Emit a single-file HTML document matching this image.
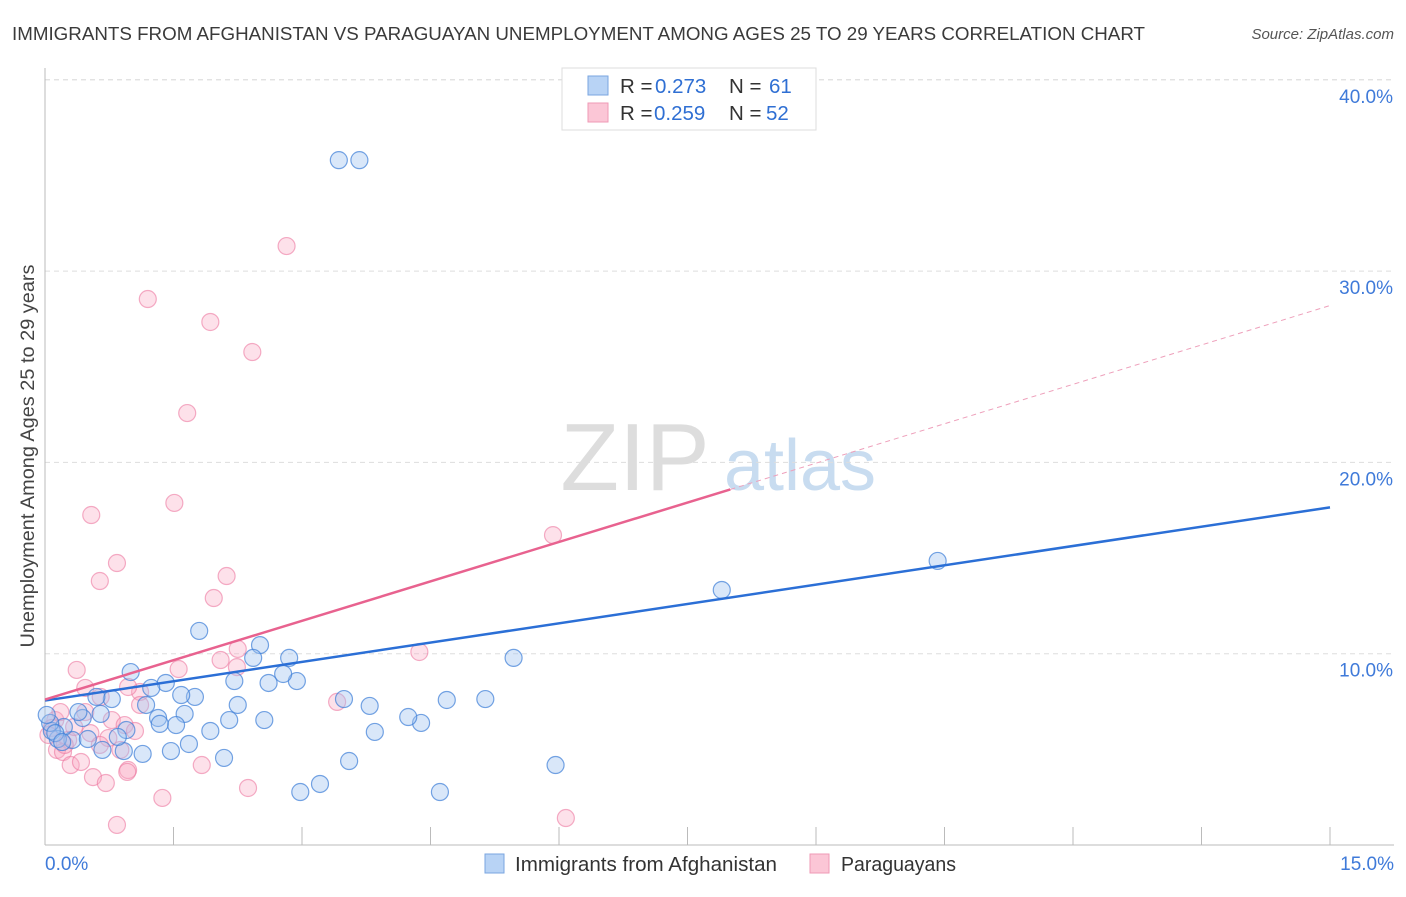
<!DOCTYPE html>
<html><head><meta charset="utf-8"><style>
body{margin:0;background:#fff;font-family:"Liberation Sans",sans-serif;}
svg text{font-family:"Liberation Sans",sans-serif;}
</style></head><body>
<svg id="chart" width="1406" height="892" xmlns="http://www.w3.org/2000/svg">
<text x="12" y="40" font-size="18" fill="#3a3a3a" textLength="1133" lengthAdjust="spacingAndGlyphs">IMMIGRANTS FROM AFGHANISTAN VS PARAGUAYAN UNEMPLOYMENT AMONG AGES 25 TO 29 YEARS CORRELATION CHART</text>
<text x="1394" y="39" font-size="15" fill="#555" font-style="italic" text-anchor="end">Source: ZipAtlas.com</text>
<text x="34" y="456" font-size="19.5" fill="#444" text-anchor="middle" transform="rotate(-90 34 456)" textLength="383" lengthAdjust="spacingAndGlyphs">Unemployment Among Ages 25 to 29 years</text>
<g><text x="635" y="490" font-size="96" fill="#ddd" font-family="Liberation Serif" text-anchor="middle">ZIP</text><text x="800" y="490" font-size="72" fill="#c8dcf0" text-anchor="middle">atlas</text></g>
<g id="grid"></g><g id="axes"></g><g id="marks"></g>
<g>
<rect x="562" y="68" width="254" height="62" fill="#fff" stroke="#ddd"/>
<rect x="588" y="76" width="20" height="19" fill="#b8d3f5" stroke="#7aa6e0"/>
<rect x="588" y="103" width="20" height="19" fill="#fbc6d6" stroke="#ef9ab6"/>
<text x="620" y="93" font-size="20.5" fill="#333">R = <tspan x="655" fill="#2f6fd3">0.273</tspan><tspan x="729">N = </tspan><tspan x="769" fill="#2f6fd3">61</tspan></text>
<text x="620" y="120" font-size="20.5" fill="#333">R = <tspan x="654" fill="#2f6fd3">0.259</tspan><tspan x="729">N = </tspan><tspan x="766" fill="#2f6fd3">52</tspan></text>
</g>
<g>
<rect x="485" y="854" width="19" height="19" fill="#b8d3f5" stroke="#7aa6e0"/>
<text x="515" y="871" font-size="20" fill="#333" textLength="262" lengthAdjust="spacingAndGlyphs">Immigrants from Afghanistan</text>
<rect x="810" y="854" width="19" height="19" fill="#fbc6d6" stroke="#ef9ab6"/>
<text x="841" y="871" font-size="20" fill="#333" textLength="115" lengthAdjust="spacingAndGlyphs">Paraguayans</text>
</g>
</svg>
<script>
const yTicks=[10,20,30,40];
const yTickLabels=["10.0%","20.0%","30.0%","40.0%"];
const xTicks=[0,1.5,3,4.5,6,7.5,9,10.5,12,13.5,15];
const blueX=[3.43,3.67,10.42,7.90,5.47,5.14,4.69,4.39,4.24,5.96,4.61,3.79,3.85,3.55,3.21,2.98,3.49,2.94,2.85,2.78,2.61,2.51,2.56,2.43,2.25,2.21,2.15,2.09,1.93,1.80,1.75,1.63,1.59,1.68,1.53,1.47,1.41,1.32,1.34,1.24,1.18,1.14,1.00,0.95,0.92,0.85,0.78,0.65,0.60,0.44,0.39,0.32,0.22,0.15,0.08,0.06,0.12,0.20,0.02,0.50,0.67];
const blueY=[35.8,35.8,14.85,13.33,9.78,7.63,7.58,6.38,6.69,4.18,2.77,7.27,5.91,4.39,3.19,2.77,7.63,8.57,9.78,8.94,8.47,10.45,6.53,9.78,7.32,8.57,6.53,4.55,5.96,11.19,7.74,6.85,7.84,5.28,6.27,4.91,8.47,6.64,6.33,8.21,7.32,4.76,9.04,6.01,4.91,5.65,7.63,6.85,7.74,6.64,6.95,5.49,6.17,5.54,5.96,6.38,5.85,5.38,6.80,5.54,4.97];
const pinkX=[2.82,1.20,1.93,2.42,1.66,1.51,0.54,5.93,0.84,0.64,2.12,1.97,4.37,2.25,1.56,2.05,2.24,0.37,1.11,0.97,0.65,0.47,3.41,0.78,0.93,1.05,0.53,0.74,0.27,0.14,0.21,0.30,0.42,0.56,0.71,0.97,0.96,1.37,1.83,2.37,6.08,0.84,0.12,0.08,0.18,0.04,0.47,1.11,0.64,0.34,0.88,0.23];
const pinkY=[31.31,28.54,27.34,25.77,22.58,17.88,17.25,16.2,14.74,13.8,14.06,12.91,10.09,10.25,9.2,9.67,9.3,9.15,8.0,8.26,7.74,8.21,7.48,6.53,6.27,5.96,5.85,5.59,5.49,4.97,4.86,4.18,4.34,3.55,3.24,3.92,3.82,2.46,4.18,2.98,1.41,1.05,6.53,6.12,6.95,5.75,6.95,7.32,5.23,6.17,4.97,5.23];
const blueTrend=[7.55,17.65];
const pinkTrend=[7.6,28.2];
const pinkSolidEnd=8.0;
const NS="http://www.w3.org/2000/svg";
const X0=45,X1=1330,Y0=845,YPER=19.13;
function sx(v){return X0+v*(X1-X0)/15;}
function sy(v){return Y0-v*YPER;}
function mk(tag,attrs,parent){const e=document.createElementNS(NS,tag);for(const k in attrs)e.setAttribute(k,attrs[k]);document.getElementById(parent).appendChild(e);return e;}
let e;
e=mk('line',{x1:X0,y1:sy(40),x2:1394,y2:sy(40),stroke:'#ddd','stroke-dasharray':'5,4'},'grid');


yTicks.forEach((t,i)=>{
 e=mk('line',{x1:X0,y1:sy(t),x2:1394,y2:sy(t),stroke:'#ddd','stroke-dasharray':'5,4'},'grid');
 
 
 e=mk('text',{x:1393,y:sy(t)+23,'font-size':19,fill:'#3f7ad9','text-anchor':'end'},'axes');
 e.textContent=yTickLabels[i];
 
 
});
e=mk('line',{x1:X0,y1:68,x2:X0,y2:Y0,stroke:'#bbb'},'axes');


e=mk('line',{x1:X0,y1:Y0,x2:1394,y2:Y0,stroke:'#bbb'},'axes');


xTicks.forEach(t=>{
 e=mk('line',{x1:sx(t),y1:Y0,x2:sx(t),y2:Y0-18,stroke:'#bbb'},'axes');
 
 
});
e=mk('text',{x:45,y:870,'font-size':19,fill:'#3f7ad9'},'axes');e.textContent='0.0%';


e=mk('text',{x:1394,y:870,'font-size':19,fill:'#3f7ad9','text-anchor':'end'},'axes');e.textContent='15.0%';


pinkX.forEach((x,i)=>{
 e=mk('circle',{cx:sx(x),cy:sy(pinkY[i]),r:8.5,fill:'rgba(248,170,195,0.35)',stroke:'rgba(236,120,160,0.6)','stroke-width':1.2},'marks');
 
 
});
blueX.forEach((x,i)=>{
 e=mk('circle',{cx:sx(x),cy:sy(blueY[i]),r:8.5,fill:'rgba(160,195,240,0.4)',stroke:'rgba(60,125,215,0.7)','stroke-width':1.2},'marks');
 
 
});
e=mk('line',{x1:sx(0),y1:sy(blueTrend[0]),x2:sx(15),y2:sy(blueTrend[1]),stroke:'#2b6fd6','stroke-width':2.5},'marks');


const pAt=v=>pinkTrend[0]+(pinkTrend[1]-pinkTrend[0])*v/15;
e=mk('line',{x1:sx(0),y1:sy(pinkTrend[0]),x2:sx(pinkSolidEnd),y2:sy(pAt(pinkSolidEnd)),stroke:'#e8628f','stroke-width':2.5},'marks');


e=mk('line',{x1:sx(pinkSolidEnd),y1:sy(pAt(pinkSolidEnd)),x2:sx(15),y2:sy(pinkTrend[1]),stroke:'#eea0bb','stroke-width':1,'stroke-dasharray':'5,4'},'marks');


</script>
</body></html>
